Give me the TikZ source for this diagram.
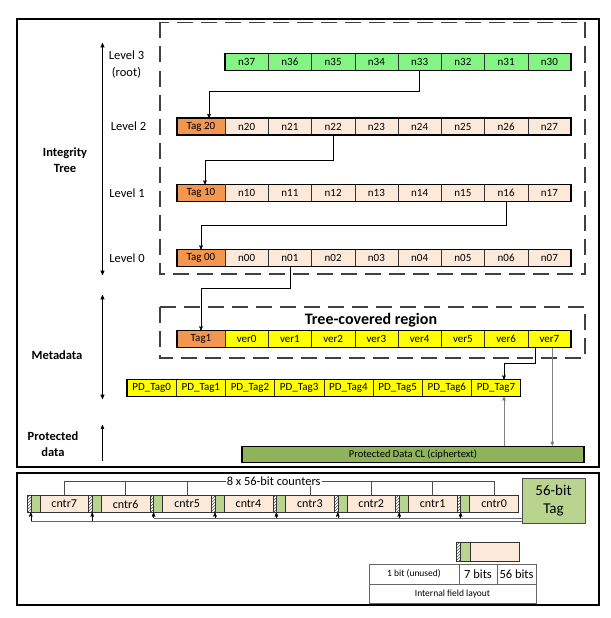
\documentclass[tikz,border=0pt]{standalone}
\usepackage{fontspec}
\setmainfont{Carlito}
\usepackage{tikz}
\usetikzlibrary{arrows,positioning,calc,patterns}
\definecolor{rootColor}{HTML}{84F584}
\definecolor{tagColor}{HTML}{F3964F}
\definecolor{nodeColor}{HTML}{FDE9D9}
\definecolor{verColor}{HTML}{FFFF00}
\definecolor{dataColor}{HTML}{8EB35A}
\definecolor{ctrColor}{HTML}{B9D48F}
\tikzset{
	cell/.style={draw=black!80, line width=0.5pt, inner sep=0, outer sep=0,
		minimum width=43.25pt, minimum height=17pt, anchor=west,
		font=\fontsize{11}{12}\selectfont},
	tagcell/.style={cell, fill=tagColor, minimum width=48pt},
	rowbox/.style={draw, line width=1.6pt},
	region/.style={draw=black!75, line width=1.3pt, dash pattern=on 16pt off 8pt},
	frame/.style={draw, line width=2.6pt},
	lvl/.style={font=\fontsize{12.5}{16.5}\selectfont, align=center},
	part/.style={font=\bfseries\fontsize{12.5}{16}\selectfont, align=center},
	link/.style={->, >=stealth', line width=0.6pt},
	glink/.style={link, draw=black!50},
	span/.style={<->, >=stealth', line width=0.7pt},
	bitcell/.style={draw=black!80, line width=0.5pt, inner sep=0, outer sep=0,
		minimum height=17pt, anchor=west},
	hatch/.style={bitcell, pattern=north east lines, pattern color=black!70, minimum width=3.5pt},
	tab/.style={draw=black!60, line width=0.5pt, inner sep=0, outer sep=0,
		minimum height=19.5pt, anchor=west, font=\fontsize{9.5}{11}\selectfont}
}

\begin{document}
\begin{tikzpicture}[x=1pt, y=-1pt, semithick]
	\useasboundingbox (0,0) rectangle (610,618);
	\draw[frame] (17,19) rectangle (599,467);
	\draw[frame] (17,473) rectangle (599,605);
	\draw[region] (160,22.5) rectangle (585,274);
	\draw[region] (160,307) rectangle (585,358);
	
	\foreach \i [evaluate=\i as \j using int(7-\i)] in {0,...,7}
		\node[cell, fill=rootColor] (n3\j) at (225+43.25*\i, 62) {n3\j};
	\draw[rowbox] (n37.north west) rectangle (n30.south east);
	\foreach \lv/\yy in {2/126.5, 1/193, 0/258} {
		\node[tagcell] (tag\lv0) at (177, \yy) {Tag \lv0};
		\foreach \i in {0,...,7}
			\node[cell, fill=nodeColor] (n\lv\i) at (225+43.25*\i, \yy) {n\lv\i};
		\draw[rowbox] (tag\lv0.north west) rectangle (n\lv7.south east);
	}
	
	\node[tagcell] (tag1) at (177, 339) {Tag1};
	\foreach \i in {0,...,7}
		\node[cell, fill=verColor] (ver\i) at (225+43.25*\i, 339) {ver\i};
	\draw[rowbox] (tag1.north west) rectangle (ver7.south east);
	\foreach \i in {0,...,7}
		\node[cell, fill=verColor, minimum width=49.2pt] (pd\i) at (127+49.2*\i, 388) {PD\_Tag\i};
	\draw[rowbox] (pd0.north west) rectangle (pd7.south east);
	
	\node[draw, line width=1.4pt, fill=dataColor, minimum width=342pt, minimum height=16pt,
		inner sep=0, font=\fontsize{10.5}{12}\selectfont] (cl) at (413,454.5) {Protected Data CL (ciphertext)};
	
	\node[lvl] (lv3) at (126.5,64.5) {Level 3\\(root)};
	\node[lvl] (lv2) at (128.5,126.5) {Level 2};
	\node[lvl] (lv1) at (127,193) {Level 1};
	\node[lvl] (lv0) at (127,258) {Level 0};
	\node[part] (tree) at (65,160) {Integrity\\Tree};
	\node[part] (meta) at (57,355) {Metadata};
	\node[part] (prot) at (53,444) {Protected\\data};
	\node[font=\bfseries\fontsize{16}{18}\selectfont] (covered) at (371,320) {Tree-covered region};
	
	\coordinate (treetop) at (102.5,43);
	\coordinate (treebot) at (102.5,275);
	\coordinate (metatop) at (102.5,295);
	\coordinate (metabot) at (102.5,399);
	\coordinate (prottop) at (102.5,425);
	\coordinate (protbot) at (102.5,461);
	\draw[span] (treetop) -- (treebot);
	\draw[span] (metatop) -- (metabot);
	\draw[link] (protbot) -- (prottop);
	
	\draw[link] (n33.south) -- ++(0,21) -| ([xshift=8pt]tag20.north);
	\draw[link] (n22.south) -- ++(0,25) -| ([xshift=4pt]tag10.north);
	\draw[link] (n16.south) -- ++(0,23.5) -| (tag00.north);
	\draw[link] (n01.south) -- ++(0,21.5) -| (tag1.north);
	\coordinate (v7l) at ([xshift=-14pt]ver7.south);
	\coordinate (v7r) at ([xshift=3pt]ver7.south);
	\coordinate (pd7top) at ([xshift=8pt]pd7.north);
	\coordinate (pd7bot) at ([xshift=8pt]pd7.south);
	\draw[link] (v7l) -- ++(0,15.5) -| (pd7top);
	\draw[glink] (v7r) -- (v7r |- cl.north);
	\draw[glink] (pd7bot |- cl.north) -- (pd7bot);
	
	\foreach \i in {0,...,7} {
		\node[hatch] (u\i) at (27.3+61.4*7-61.4*\i, 504) {};
		\node[bitcell, fill=ctrColor, minimum width=9pt, right=0pt of u\i] (g\i) {};
		\node[bitcell, fill=nodeColor, minimum width=48.9pt, right=0pt of g\i,
			font=\fontsize{12}{14}\selectfont] (cntr\i) {cntr\i};
	}
	\coordinate (brk) at (273.7,481);
	\draw[black!70] (cntr7.north |- brk) -- (cntr0.north |- brk);
	\foreach \i in {7,6,5,3,2,1,0}
		\draw[black!70] (cntr\i.north |- brk) -- (cntr\i.north);
	\node[fill=white, inner sep=1pt, font=\fontsize{12.4}{14}\selectfont] (ctrs) at (brk) {8 x 56-bit counters};
	
	\node[draw=black!70, line width=0.8pt, fill=ctrColor, minimum width=63pt, minimum height=45pt,
		align=center, font=\fontsize{15}{18}\selectfont] (tag56) at (553.5,500.5) {56-bit\\Tag};
	\coordinate (busHi) at ($(tag56.south west)+(0,-5)$);
	\coordinate (busLo) at ($(tag56.south west)+(0,-2)$);
	\draw[black!60] (busHi) -- (u5.east |- busHi);
	\draw[black!60] (busLo) -- (u7.east |- busLo);
	\foreach \i in {5,...,0}
		\draw[link] (u\i.east |- busHi) -- (u\i.south east);
	\foreach \i in {7,6}
		\draw[link] (u\i.east |- busLo) -- (u\i.south east);
	
	\node[hatch, minimum height=19pt] (fu) at (456.5,551.5) {};
	\node[bitcell, fill=ctrColor, minimum width=10pt, minimum height=19pt, right=0pt of fu] (fg) {};
	\node[bitcell, fill=nodeColor, minimum width=49pt, minimum height=19pt, right=0pt of fg] (fc) {};
	
	\node[tab, minimum width=90pt] (f1) at (369,574) {1 bit (unused)};
	\node[tab, minimum width=38pt, right=0pt of f1, font=\fontsize{12.5}{14}\selectfont] (f2) {7 bits};
	\node[tab, minimum width=39pt, right=0pt of f2, font=\fontsize{12.5}{14}\selectfont] (f3) {56 bits};
	\node[tab, minimum width=167pt, anchor=north west] (flay) at (f1.south west) {Internal field layout};
\end{tikzpicture}
\end{document}
